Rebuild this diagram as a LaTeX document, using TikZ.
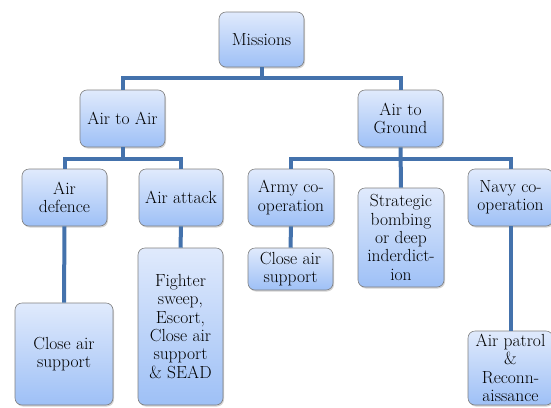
\documentclass[tikz,border=0pt]{standalone}
\usetikzlibrary{shadows}
\definecolor{linkblue}{RGB}{68,114,172}
\definecolor{boxtop}{RGB}{224,234,252}
\definecolor{boxbot}{RGB}{158,192,246}
\tikzset{
	box/.style={draw=black!50, line width=0.6pt, rounded corners=7pt, top color=boxtop, bottom color=boxbot,
		align=center, inner sep=2pt, font=\fontsize{17.5}{18.3}\selectfont,
		drop shadow={shadow xshift=1pt, shadow yshift=-1.5pt, opacity=0.35}},
	link/.style={line width=4pt, color=linkblue, line join=miter}
}

\begin{document}
\begin{tikzpicture}[x=1pt, y=-1pt]
			%%%%% START %%%%%
			\useasboundingbox (0, 0) rectangle (551, 407);
			
			\node[box, minimum width=85pt, minimum height=55pt] (missions) at (261.5, 39.5) {Missions};
			
			\node[box, minimum width=85pt, minimum height=57pt] (airair) at (122.5, 118.5) {Air to Air};
			\node[box, minimum width=85pt, minimum height=57pt] (airground) at (400.5, 118.5) {Air to\\Ground};
			
			\node[box, minimum width=85pt, minimum height=57pt] (defence) at (64.5, 197.5) {Air\\defence};
			\node[box, minimum width=84pt, minimum height=57pt] (attack) at (181, 197.5) {Air attack};
			\node[box, minimum width=86pt, minimum height=57pt] (army) at (291, 197.5) {Army co-\\operation};
			\node[box, minimum width=86pt, minimum height=99pt] (strategic) at (401, 237.5) {Strategic\\bombing\\or deep\\inderdict-\\ion};
			\node[box, minimum width=85pt, minimum height=57pt] (navy) at (510.5, 197.5) {Navy co-\\operation};
			
			\node[box, minimum width=98pt, minimum height=102pt] (closeA) at (64, 354) {Close air\\support};
			\node[box, minimum width=85pt, minimum height=157pt] (fighter) at (180.5, 326.5) {Fighter\\sweep,\\Escort,\\Close air\\support\\\& SEAD};
			\node[box, minimum width=85pt, minimum height=42pt] (closeB) at (290.5, 269) {Close air\\support};
			\node[box, minimum width=85pt, minimum height=74pt] (patrol) at (510.5, 368) {Air patrol\\\&\\Reconn-\\aissance};
			
			\coordinate (busTop) at (261.5, 78);
			\coordinate (busLeft) at (122.5, 159);
			\coordinate (busRight) at (400.5, 159);
			
			\draw[link] (missions.south) -- (busTop);
			\draw[link] (airair.north) |- (busTop) -| (airground.north);
			
			\draw[link] (airair.south) -- (busLeft);
			\draw[link] (defence.north) |- (busLeft) -| (attack.north);
			
			\draw[link] (airground.south) -- (strategic.north);
			\draw[link] (army.north) |- (busRight) -| (navy.north);
			
			\draw[link] (defence.south) -- (closeA.north);
			\draw[link] (attack.south) -- (fighter.north);
			\draw[link] (army.south) -- (closeB.north);
			\draw[link] (navy.south) -- (patrol.north);
			
			%%%%% END %%%%%
\end{tikzpicture}
\end{document}
